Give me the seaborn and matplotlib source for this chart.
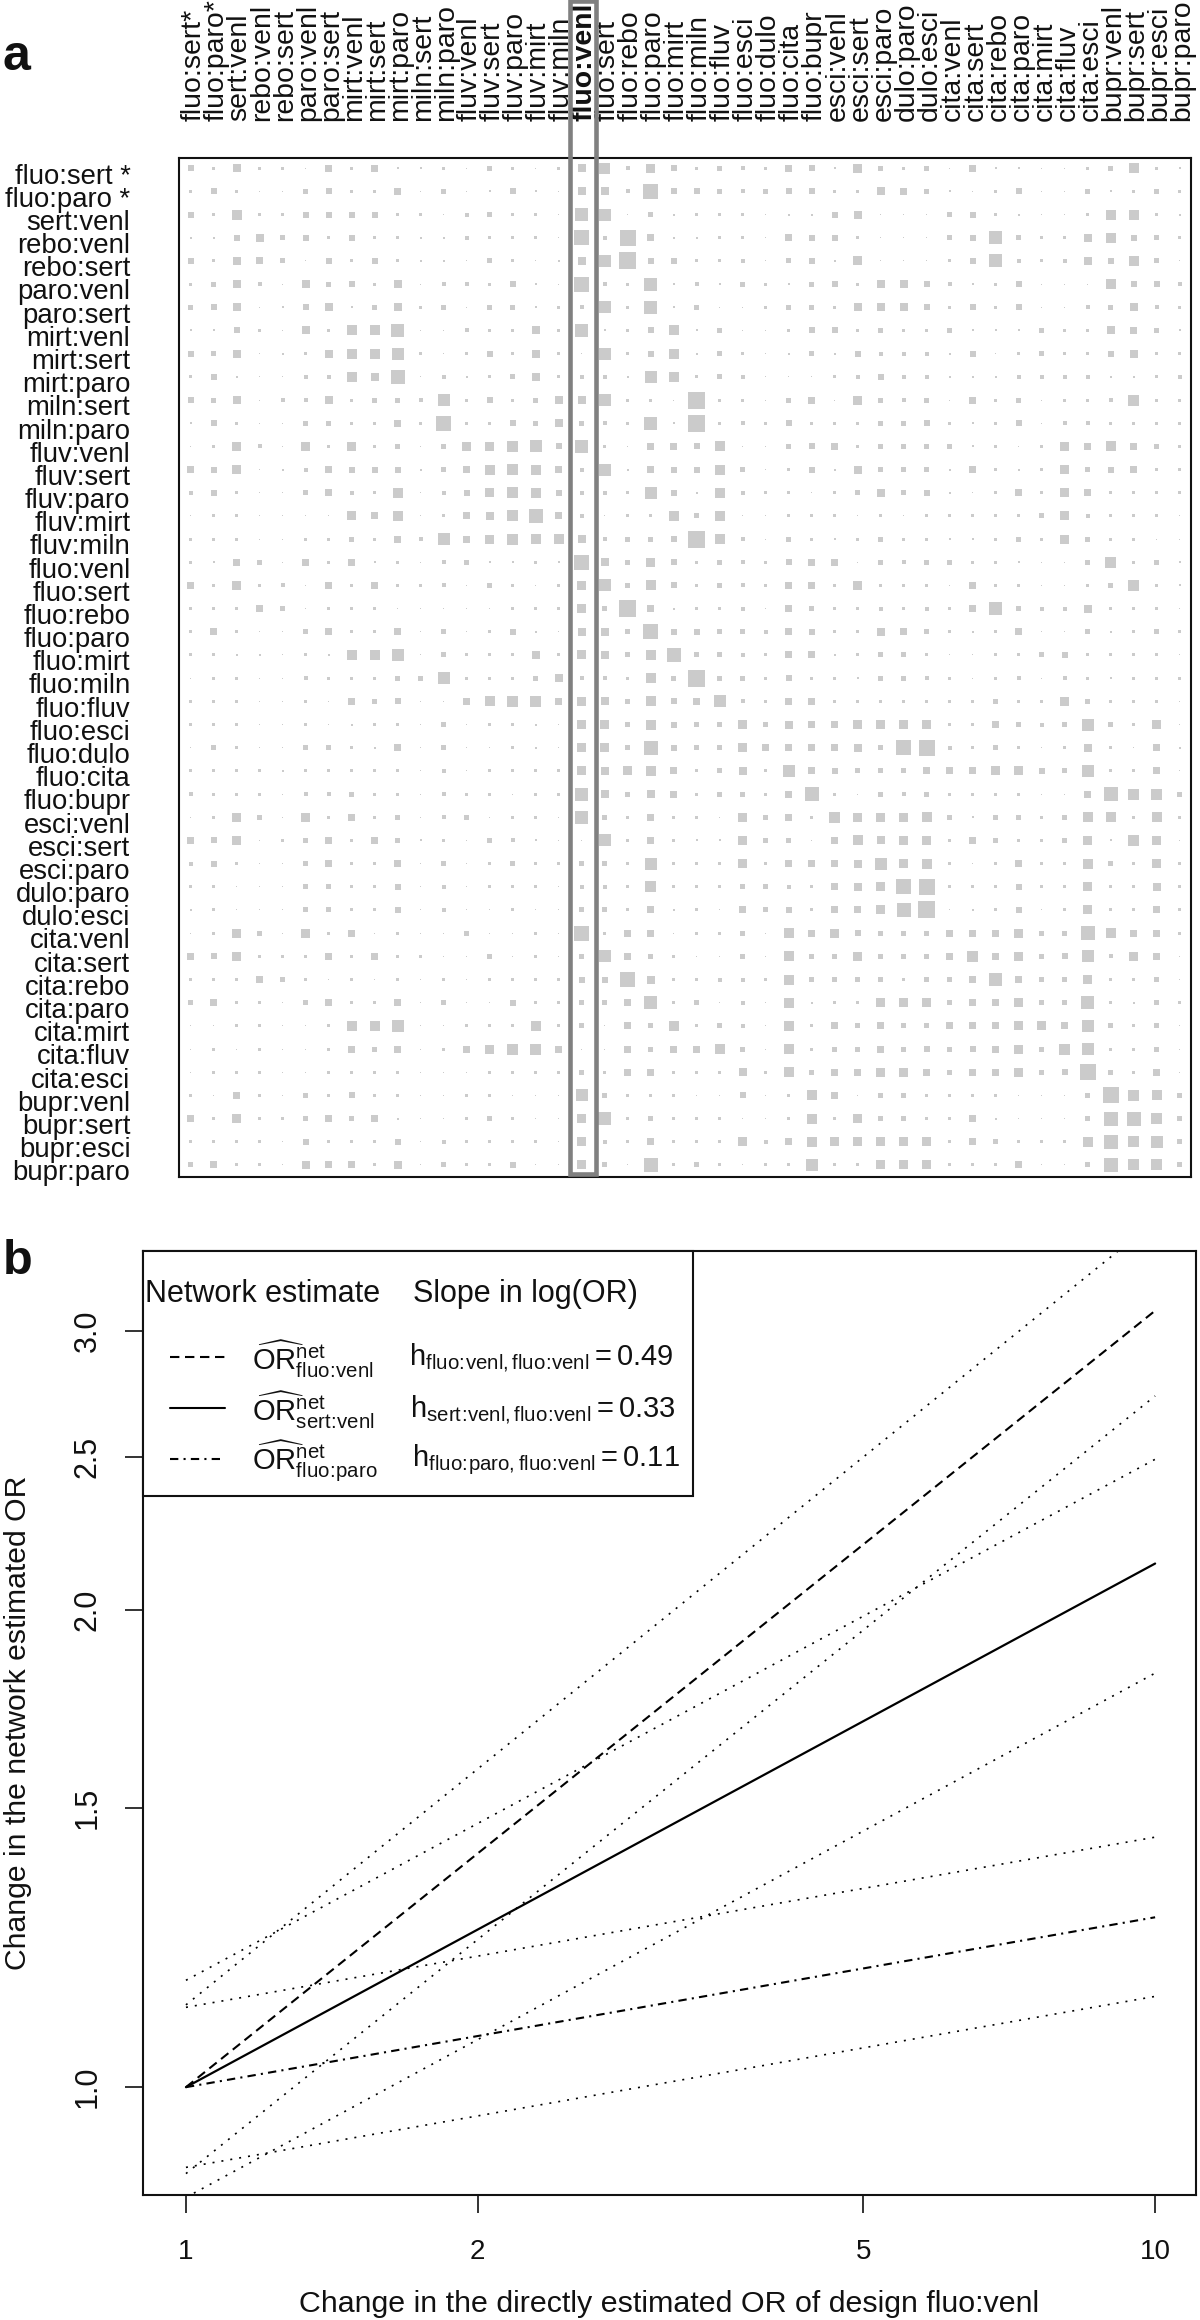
import numpy as np
import pandas as pd
import matplotlib
matplotlib.use("Agg")
import matplotlib.pyplot as plt
from matplotlib.lines import Line2D
from matplotlib.patches import Rectangle
from matplotlib.ticker import NullLocator
import seaborn as sns

designs = ["fluo:sert *", "fluo:paro *", "sert:venl", "rebo:venl", "rebo:sert", "paro:venl",
           "paro:sert", "mirt:venl", "mirt:sert", "mirt:paro", "miln:sert", "miln:paro",
           "fluv:venl", "fluv:sert", "fluv:paro", "fluv:mirt", "fluv:miln", "fluo:venl",
           "fluo:sert", "fluo:rebo", "fluo:paro", "fluo:mirt", "fluo:miln", "fluo:fluv",
           "fluo:esci", "fluo:dulo", "fluo:cita", "fluo:bupr", "esci:venl", "esci:sert",
           "esci:paro", "dulo:paro", "dulo:esci", "cita:venl", "cita:sert", "cita:rebo",
           "cita:paro", "cita:mirt", "cita:fluv", "cita:esci", "bupr:venl", "bupr:sert",
           "bupr:esci", "bupr:paro"]
col_labels = [d.replace(" *", "*") for d in designs]

# contribution of each design (columns) to each network estimate (rows)
contrib = [
    [6,3,8,3,3,1,7,3,7,2,2,3,1,5,3,1,3,8,11, 4,9,6,3,5,4,3,7,6,2,9,5,3,5,1,7,2,2,1,1,3,5,10,3,2],
    [3,6,3,1,1,5,6,3,3,7,1,5,1,2,6,2,1,8,8, 4,15,6,6,5,4,5,6,6,3,3,8,7,5,2,1,3,6,1,1,5,2,3,5,3],
    [6,3,10,3,3,6,6,6,6,3,3,1,4,5,3,3,1,13,12, 1,5,2,3,3,3,1,2,2,6,8,1,1,1,5,6,3,2,1,1,3,10,10,3,2],
    [2,2,6,8,5,6,3,6,3,3,2,2,4,3,3,3,1,15,4, 16,7,2,2,3,3,1,7,6,6,3,1,1,1,5,6,13,5,3,3,8,10,6,5,3],
    [6,3,8,7,5,1,6,3,6,3,2,2,1,5,3,1,2,8,12, 17,6,6,3,3,4,1,5,6,2,9,1,1,1,3,6,13,4,3,4,8,6,10,5,1],
    [3,5,8,4,1,8,5,6,3,8,1,4,4,3,6,2,1,15,4, 3,13,2,4,2,5,3,2,5,6,3,8,8,6,4,2,3,6,1,1,1,10,6,6,4],
    [5,6,8,1,2,6,8,2,5,8,3,5,1,5,5,2,3,4,12, 3,13,2,5,1,1,3,5,5,3,8,8,8,6,3,6,3,6,1,1,4,5,8,4,3],
    [2,2,6,3,1,8,3,10,10,13,1,1,4,3,3,8,3,13,2, 3,6,10,2,5,1,1,3,6,6,3,5,3,3,5,2,2,2,5,3,3,8,7,5,2],
    [6,5,8,1,2,3,8,10,10,12,3,1,3,6,3,8,3,1,12, 3,6,10,2,5,3,1,2,5,2,6,4,4,4,2,6,1,3,5,3,3,6,8,3,3],
    [3,6,2,1,1,4,4,10,8,14,1,4,2,3,5,8,3,4,4, 2,12,10,3,5,4,1,1,1,3,4,6,4,4,2,2,2,4,4,4,4,2,2,3,4],
    [6,5,8,1,4,4,8,3,5,5,4,12,3,6,3,5,8,8,12, 3,3,1,17,3,3,1,5,7,1,9,5,4,5,1,7,3,5,1,3,3,4,11,3,3],
    [2,6,3,1,1,5,5,3,3,7,3,15,3,3,6,5,8,5,4, 3,13,2,17,3,4,3,6,3,3,3,5,5,6,3,2,3,6,1,4,4,3,3,3,3],
    [1,3,9,4,1,9,3,9,3,5,1,5,9,9,11,12,6,13,3, 1,7,7,6,10,1,1,5,6,7,3,5,5,5,5,2,3,1,3,9,7,10,7,5,3],
    [7,6,9,1,2,4,7,6,6,6,2,5,7,10,11,10,7,4,12, 2,7,6,6,10,5,1,3,6,2,8,5,5,5,2,7,3,2,3,9,5,6,7,3,3],
    [4,6,3,1,1,5,7,4,3,10,1,4,6,9,11,10,6,4,4, 3,12,6,2,10,4,3,3,1,3,5,8,5,6,2,1,3,7,3,9,7,3,3,3,3],
    [1,3,3,1,1,1,1,9,7,10,1,3,7,8,11,14,7,4,1, 3,3,10,5,10,1,1,3,3,3,1,3,1,3,3,3,3,3,5,9,4,3,3,3,1],
    [3,3,3,1,1,3,3,5,3,7,4,12,7,9,11,10,10,8,4, 5,5,6,17,10,4,1,5,3,2,3,5,3,3,2,2,3,5,3,9,5,3,3,1,1],
    [3,2,7,5,1,7,3,7,2,3,1,4,5,2,2,3,2,15,8, 5,9,6,3,5,4,3,6,7,7,1,5,4,5,5,3,3,2,1,1,5,11,3,5,2],
    [7,3,9,3,4,1,7,3,7,3,3,4,1,5,3,1,3,9,12, 5,10,6,3,5,4,3,7,7,3,9,3,3,3,1,7,3,3,1,1,3,5,11,3,2],
    [3,3,3,7,5,1,3,3,3,1,1,1,1,1,3,3,3,9,5, 17,7,2,3,3,4,1,7,5,3,3,4,3,4,3,7,13,5,4,4,8,3,3,3,1],
    [3,7,3,1,1,5,7,3,3,7,1,5,1,3,6,2,1,8,8, 5,15,6,6,5,5,4,7,6,3,3,8,7,5,3,2,3,7,1,1,5,2,3,5,3],
    [3,3,2,2,1,3,2,10,10,12,1,5,3,3,3,8,3,9,8, 5,10,14,5,5,4,3,7,7,2,3,5,5,3,1,1,3,3,5,6,3,3,3,3,1],
    [1,3,3,1,1,4,3,3,3,5,5,12,3,3,3,5,8,4,4, 3,10,5,17,5,5,3,6,3,3,2,5,5,4,3,1,3,4,1,4,3,2,3,3,3],
    [3,3,3,1,1,3,1,7,5,6,1,1,7,10,11,11,7,9,8, 5,10,6,7,12,4,3,7,7,3,3,3,3,3,3,3,5,3,3,9,5,3,3,3,1],
    [3,3,3,1,1,3,1,2,3,3,1,5,1,3,3,2,1,9,9, 5,10,6,5,5,9,5,8,7,7,9,9,9,9,3,3,7,5,4,5,12,5,3,9,1],
    [1,5,3,1,1,5,5,3,2,7,1,5,1,1,3,2,1,9,9, 5,14,6,5,5,9,7,7,7,7,8,5,15,16,4,3,5,3,1,3,8,3,1,7,2],
    [3,3,3,3,2,3,3,3,3,3,1,4,1,3,3,3,3,9,8, 9,10,7,3,5,8,3,12,7,6,5,5,5,7,7,7,9,9,6,5,12,3,3,7,1],
    [4,3,3,3,1,4,4,5,3,3,1,4,3,3,1,3,3,13,8, 5,8,7,3,5,5,3,7,14,3,1,5,4,5,3,3,3,3,1,1,7,14,11,11,5],
    [1,3,9,5,1,9,3,7,3,5,1,4,5,1,3,3,1,13,5, 3,7,3,3,1,9,5,7,3,11,9,9,9,10,5,2,5,5,3,5,10,10,3,10,3],
    [7,6,9,1,3,5,7,3,7,5,2,3,1,5,4,2,1,1,12, 3,7,3,2,2,9,5,5,1,7,10,8,9,9,3,7,5,3,3,5,9,2,11,9,1],
    [4,6,3,1,1,5,7,3,3,7,1,5,1,3,5,3,3,5,5, 3,12,3,3,3,9,3,7,7,7,8,12,9,10,3,1,3,7,3,3,10,5,3,9,3],
    [3,3,1,1,1,5,5,3,3,6,1,4,1,3,3,3,1,4,4, 3,11,3,3,3,5,5,4,3,7,8,9,15,16,3,3,3,6,3,3,9,3,3,8,3],
    [2,3,1,1,1,5,5,3,3,6,1,4,1,1,3,1,1,5,5, 3,7,2,3,1,7,5,6,3,7,7,9,14,17,1,2,3,6,1,3,9,3,3,7,3],
    [1,3,9,5,1,9,3,7,1,3,1,1,5,1,1,3,1,15,3, 7,7,1,3,3,5,1,10,7,9,6,5,5,5,7,7,7,9,5,5,14,10,7,7,3],
    [7,6,9,3,3,3,7,3,7,3,3,1,1,5,1,3,1,5,12, 7,5,3,1,1,5,1,10,5,5,9,5,5,5,7,11,7,9,5,6,12,4,9,7,1],
    [3,3,3,7,5,3,1,3,1,3,1,3,1,3,3,3,3,6,6, 15,8,3,3,4,4,3,10,5,5,5,5,3,5,5,7,13,7,5,5,9,3,3,5,1],
    [5,7,3,3,1,5,7,3,3,7,1,5,1,1,6,3,3,5,5, 7,13,3,5,1,4,1,10,2,3,3,9,9,9,5,7,7,9,5,5,13,3,2,5,3],
    [1,1,3,3,1,1,3,10,10,12,1,1,3,3,3,10,3,5,1, 7,5,10,3,5,4,1,10,3,7,5,7,5,5,7,7,7,9,9,7,12,5,3,5,1],
    [1,3,1,3,1,1,3,7,5,7,1,3,7,9,11,11,7,1,1, 7,5,7,7,10,5,1,10,3,5,5,7,5,6,5,6,7,9,5,11,12,3,3,5,1],
    [1,3,3,3,1,1,3,3,3,3,1,1,1,3,3,3,3,5,3, 7,7,3,3,3,8,3,10,5,7,7,9,9,7,5,7,7,9,5,6,16,5,3,7,1],
    [3,1,7,3,1,5,3,6,3,3,1,1,3,3,1,1,1,12,5, 3,3,3,1,1,6,1,3,10,7,1,5,5,3,3,3,3,1,1,1,5,16,11,10,5],
    [7,3,9,3,3,5,7,5,7,2,1,1,3,5,3,1,1,9,13, 3,5,3,3,3,1,1,3,10,3,9,5,5,3,3,7,2,1,1,1,5,14,14,11,5],
    [3,3,3,3,1,6,3,3,3,6,1,4,3,3,3,3,1,9,4, 3,7,3,3,3,9,4,7,10,9,9,9,9,9,3,7,5,3,3,3,10,14,11,12,5],
    [5,7,3,3,1,8,7,7,3,8,1,5,3,3,6,1,1,9,5, 1,14,3,5,3,1,3,3,12,3,3,9,9,9,3,3,3,7,1,1,5,14,11,11,5],
]

# panel b, end points of the fitted lines in log-log scale
or_range = [1, 10]
net_fluo_venl = [1.0, 3.09]
net_sert_venl = [1.0, 2.14]
net_fluo_paro = [1.0, 1.28]
other_start = [1.127, 1.168, 1.123, 0.882, 0.852, 0.890]
other_end = [3.52, 2.49, 1.438, 2.73, 1.825, 1.141]

x_ticks = [1, 2, 5, 10]
y_ticks = [1.0, 1.5, 2.0, 2.5, 3.0]

W, H = 1200, 2320
BLACK = "#111111"

sns.set_theme(style="white")
plt.rcParams["font.family"] = ["Liberation Sans", "DejaVu Sans"]
plt.rcParams["mathtext.fontset"] = "custom"
plt.rcParams["mathtext.rm"] = "Liberation Sans"
plt.rcParams["mathtext.it"] = "Liberation Sans"
plt.rcParams["mathtext.bf"] = "Liberation Sans:bold"


def px_axes(fig, left, top, right, bottom):
    return fig.add_axes([left / W, 1 - bottom / H, (right - left) / W, (bottom - top) / H])


def px_point(x, y):
    return x / W, 1 - y / H


fig = plt.figure(figsize=(W / 100, H / 100), dpi=100, facecolor="white")

# ---- panel a
ax_a = px_axes(fig, 179, 158, 1191, 1177)
n_rows, n_cols = len(contrib), len(contrib[0])
cells = pd.DataFrame({
    "col": np.tile(np.arange(n_cols), n_rows),
    "row": np.repeat(np.arange(n_rows), n_cols),
    "level": np.array(contrib).ravel(),
})
size_map = {v: (v * 0.72) ** 2 for v in sorted(cells["level"].unique())}
sns.scatterplot(data=cells, x="col", y="row", size="level", sizes=size_map, marker="s",
                color="#cbcbcb", linewidth=0, legend=False, ax=ax_a)
ax_a.set_xlim(-0.505, n_cols - 0.5)
ax_a.set_ylim(43.52, -0.44)
ax_a.set_xticks([])
ax_a.set_yticks([])
ax_a.set_xlabel("")
ax_a.set_ylabel("")
for spine in ax_a.spines.values():
    spine.set_linewidth(1.5)
    spine.set_color(BLACK)

hl = designs.index("fluo:venl")
for i, lab in enumerate(designs):
    ax_a.annotate(lab, xy=(0, i), xycoords=("axes fraction", "data"), xytext=(-35, -6),
                  textcoords="offset points", ha="right", va="center", fontsize=19.8, color=BLACK)
for i, lab in enumerate(col_labels):
    ax_a.annotate(lab, xy=(i, 1), xycoords=("data", "axes fraction"), xytext=(2, 26.5),
                  textcoords="offset points", ha="center", va="bottom", rotation=90,
                  fontsize=20.4, color=BLACK, fontweight="bold" if i == hl else "normal")
ax_a.add_patch(Rectangle((hl - 0.5, 43.39), 1.11, -50.6, fill=False, edgecolor="#808080",
                         linewidth=3.3, clip_on=False, zorder=5))

# ---- panel b
ax_b = px_axes(fig, 143, 1251, 1196, 2195)
ax_b.set_xscale("log")
ax_b.set_yscale("log")

dotted = (0, (1.2, 4.2))
for y0, y1 in zip(other_start, other_end):
    sns.lineplot(x=or_range, y=[y0, y1], color="black", linewidth=1.2, linestyle=dotted,
                 dash_capstyle="butt", errorbar=None, ax=ax_b)
sns.lineplot(x=or_range, y=net_fluo_venl, color="black", linewidth=1.5,
             linestyle=(0, (4.5, 2.7)), errorbar=None, ax=ax_b)
sns.lineplot(x=or_range, y=net_sert_venl, color="black", linewidth=1.6, errorbar=None, ax=ax_b)
sns.lineplot(x=or_range, y=net_fluo_paro, color="black", linewidth=1.5,
             linestyle=(0, (4, 2.5, 1, 2.5)), errorbar=None, ax=ax_b)

ax_b.set_xlim(0.903, 11.02)
ax_b.set_ylim(0.855, 3.37)
ax_b.xaxis.set_minor_locator(NullLocator())
ax_b.yaxis.set_minor_locator(NullLocator())
ax_b.set_xticks(x_ticks, [str(t) for t in x_ticks])
ax_b.set_yticks(y_ticks, [f"{t:.1f}" for t in y_ticks])
ax_b.tick_params(axis="both", which="major", length=13, width=1.2, color=BLACK, labelcolor=BLACK,
                 labelsize=20, left=True, bottom=True)
ax_b.tick_params(axis="x", pad=19)
ax_b.tick_params(axis="y", pad=16, labelsize=22)
plt.setp(ax_b.get_yticklabels(), rotation=90, va="center")
for spine in ax_b.spines.values():
    spine.set_linewidth(1.5)
    spine.set_color(BLACK)
ax_b.set_xlabel("")
ax_b.set_ylabel("")
fig.text(*px_point(669.5, 2304), "Change in the directly estimated OR of design fluo:venl",
         ha="center", va="center", fontsize=21.9, color=BLACK)
fig.text(*px_point(18, 1723), "Change in the network estimated OR", rotation=90,
         ha="center", va="center", fontsize=21.7, color=BLACK)

# legend box, drawn by hand because of the two column layout
fig.add_artist(Rectangle(px_point(143, 1496), 550 / W, 245 / H, transform=fig.transFigure,
                         facecolor="white", edgecolor=BLACK, linewidth=1.5, zorder=6))
fig.text(*px_point(145, 1294), "Network estimate", ha="left", va="center", fontsize=22,
         color=BLACK, zorder=7)
fig.text(*px_point(413, 1294), "Slope in log(OR)", ha="left", va="center", fontsize=22,
         color=BLACK, zorder=7)

legend_rows = [
    (r"fluo\!:\!venl", (0, (4.5, 2.7)), 1357, 409, 0.49),
    (r"sert\!:\!venl", "-", 1408, 410, 0.33),
    (r"fluo\!:\!paro", (0, (4, 2.5, 1, 2.5)), 1459, 412, 0.11),
]
for name, style, y, x_h, slope in legend_rows:
    x0, y0 = px_point(170, y)
    x1, _ = px_point(225, y)
    fig.add_artist(Line2D([x0, x1], [y0, y0], color="black", linewidth=1.5, linestyle=style,
                          transform=fig.transFigure, zorder=7))
    fig.text(*px_point(252, y + 2), rf"$\widehat{{\mathrm{{OR}}}}_{{\mathrm{{{name}}}}}^{{\mathrm{{net}}}}$",
             ha="left", va="center", fontsize=21, color=BLACK, zorder=7)
    fig.text(*px_point(x_h, y + 1),
             rf"$\mathrm{{h}}_{{\mathrm{{{name},fluo\!:\!venl}}}}=\mathrm{{{slope:.2f}}}$",
             ha="left", va="center", fontsize=21, color=BLACK, zorder=7)

fig.text(*px_point(2, 57), "a", ha="left", va="center", fontsize=36, fontweight="bold", color=BLACK)
fig.text(*px_point(3, 1261), "b", ha="left", va="center", fontsize=35, fontweight="bold", color=BLACK)

fig.savefig("out.png", dpi=100, facecolor="white")
